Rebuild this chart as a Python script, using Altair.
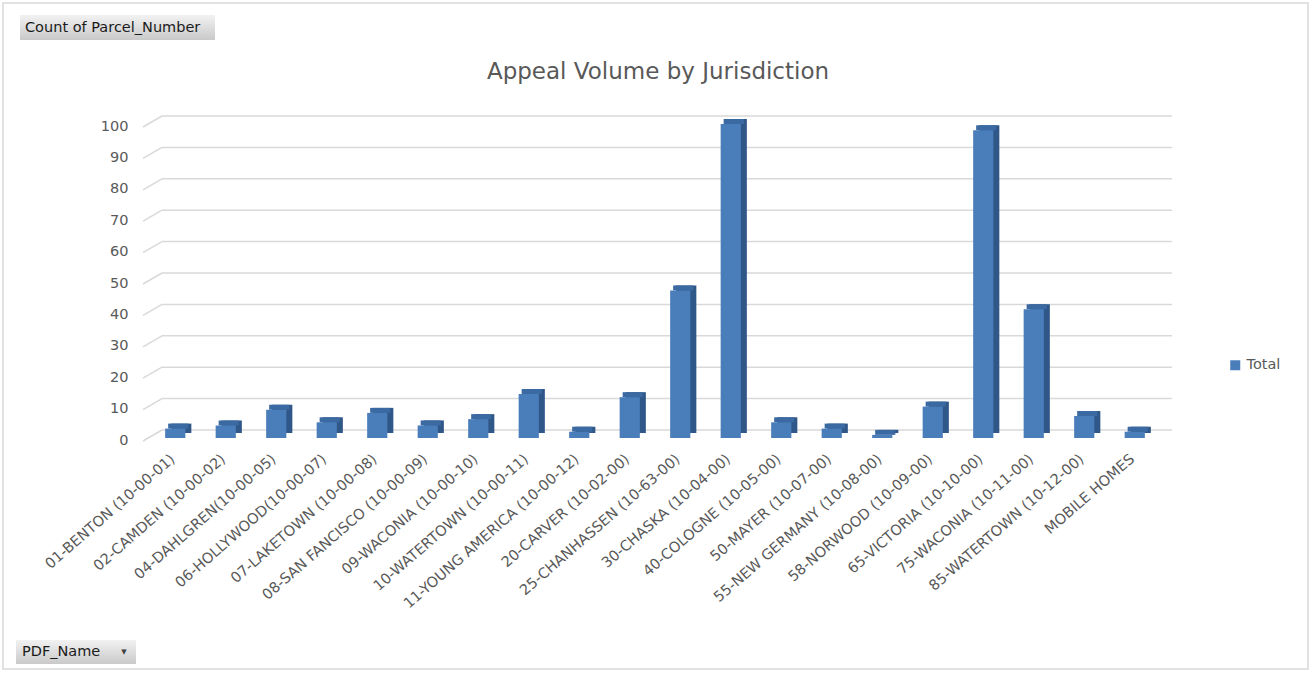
import altair as alt
import pandas as pd

categories = ["01-BENTON (10-00-01)", "02-CAMDEN (10-00-02)", "04-DAHLGREN(10-00-05)",
              "06-HOLLYWOOD(10-00-07)", "07-LAKETOWN (10-00-08)", "08-SAN FANCISCO (10-00-09)",
              "09-WACONIA (10-00-10)", "10-WATERTOWN (10-00-11)", "11-YOUNG AMERICA (10-00-12)",
              "20-CARVER (10-02-00)", "25-CHANHASSEN (10-63-00)", "30-CHASKA (10-04-00)",
              "40-COLOGNE (10-05-00)", "50-MAYER (10-07-00)", "55-NEW GERMANY (10-08-00)",
              "58-NORWOOD (10-09-00)", "65-VICTORIA (10-10-00)", "75-WACONIA (10-11-00)",
              "85-WATERTOWN (10-12-00)", "MOBILE HOMES"]
counts = [3, 4, 9, 5, 8, 4, 6, 14, 2, 13, 47, 100, 5, 3, 1, 10, 98, 41, 7, 2]
series_name = "Total"
y_ticks = [0, 10, 20, 30, 40, 50, 60, 70, 80, 90, 100]
title_text = "Appeal Volume by Jurisdiction"

FONT = "DejaVu Sans"
GRAY = "#595959"

df = pd.DataFrame({"PDF_Name": categories, "Count": counts, "series": series_name})
grid_df = pd.DataFrame({"v": y_ticks})
one = alt.Data(values=[{"k": 1}])

xs = alt.Scale(domain=categories, paddingInner=0.6, paddingOuter=0.3)
ys = alt.Scale(domain=[0, 100], nice=False)

x_axis = alt.Axis(labelAngle=-41, labelAlign="right", labelBaseline="middle",
                  labelPadding=19, labelOffset=-2, domain=False, ticks=False, grid=False,
                  labelFont=FONT, labelFontSize=14.5, labelColor=GRAY,
                  labelLimit=400, labelOverlap=False, title=None)
y_axis = alt.Axis(values=y_ticks, domain=False, ticks=False, grid=False,
                  labelPadding=22, labelOffset=2, labelFont=FONT,
                  labelFontSize=14.5, labelColor=GRAY, title=None)

X = alt.X("PDF_Name:N", scale=xs, sort=categories, axis=x_axis)

# back wall gridlines (offset for 3-D depth)
grid = alt.Chart(grid_df).mark_rule(color="#d9d9d9", strokeWidth=1.5, yOffset=-8).encode(
    y=alt.Y("v:Q", scale=ys, axis=y_axis),
    x=alt.value(12), x2=alt.value(1022),
)
diag = alt.Chart(grid_df).mark_rule(color="#d9d9d9", strokeWidth=1.5, yOffset=3, y2Offset=-8).encode(
    y=alt.Y("v:Q", scale=ys, axis=y_axis), y2="v:Q",
    x=alt.value(-7), x2=alt.value(12),
)

side = alt.Chart(df).mark_bar(color="#2f5788", xOffset=6, x2Offset=6, yOffset=-5).encode(
    x=X,
    y=alt.Y("Count:Q", scale=ys, axis=y_axis),
)
top = alt.Chart(df).mark_bar(color="#3b69a2", xOffset=3, x2Offset=3, yOffset=-5, y2Offset=0).encode(
    x=X,
    y=alt.Y("Count:Q", scale=ys, axis=y_axis),
    y2="Count:Q",
)
front = alt.Chart(df).mark_bar().encode(
    x=X,
    y=alt.Y("Count:Q", scale=ys, axis=y_axis),
    color=alt.Color("series:N", scale=alt.Scale(domain=[series_name], range=["#4a7ebb"]),
                    legend=alt.Legend(title=None, orient="none", legendX=1078, legendY=234,
                                      symbolType="square", symbolSize=100,
                                      symbolStrokeWidth=0,
                                      labelFont=FONT, labelFontSize=14.5, labelColor=GRAY)),
)

# outer border
border = alt.Chart(one).mark_rect(fill=None, stroke="#d9d9d9", strokeWidth=1.5).encode(
    x=alt.value(-147), x2=alt.value(1158), y=alt.value(-121), y2=alt.value(545)
)
title = alt.Chart(one).mark_text(text=title_text, font=FONT, fontSize=23, color=GRAY,
                                 align="center", baseline="middle").encode(
    x=alt.value(508), y=alt.value(-52)
)
grad = alt.Gradient(gradient="linear",
                    stops=[alt.GradientStop(color="#f2f2f2", offset=0),
                           alt.GradientStop(color="#c9c9c9", offset=1)],
                    x1=0, x2=0, y1=0, y2=1)
btn1 = alt.Chart(one).mark_rect(color=grad).encode(
    x=alt.value(-130), x2=alt.value(65), y=alt.value(-109), y2=alt.value(-84)
)
btn1_t = alt.Chart(one).mark_text(text="Count of Parcel_Number", font=FONT, fontSize=14.5,
                                  color="#1a1a1a", align="left", baseline="middle").encode(
    x=alt.value(-125), y=alt.value(-96)
)
btn2 = alt.Chart(one).mark_rect(color=grad).encode(
    x=alt.value(-134), x2=alt.value(-14), y=alt.value(516), y2=alt.value(540)
)
btn2_t = alt.Chart(one).mark_text(text="PDF_Name", font=FONT, fontSize=14.5,
                                  color="#1a1a1a", align="left", baseline="middle").encode(
    x=alt.value(-128), y=alt.value(528)
)
btn2_a = alt.Chart(one).mark_text(text="▼", font="DejaVu Sans", fontSize=7,
                                  color="#404040", align="center", baseline="middle").encode(
    x=alt.value(-26), y=alt.value(528)
)

chart = alt.layer(
    grid, diag, side, top, front, border, title, btn1, btn1_t, btn2, btn2_t, btn2_a
).properties(
    width=1010, height=314,
    padding={"left": 150, "top": 124, "right": 152, "bottom": 237},
    autosize=alt.AutoSizeParams(type="none"),
    background="white",
).configure_view(stroke=None)

chart.save("out.html", embed_options={"renderer": "svg", "actions": False})
